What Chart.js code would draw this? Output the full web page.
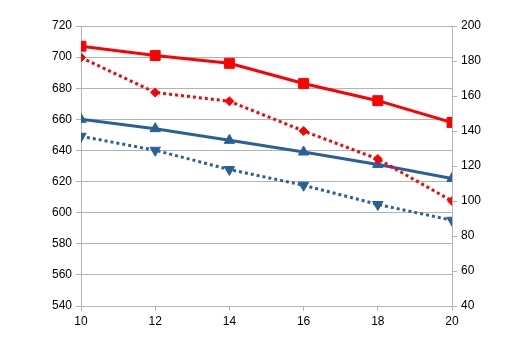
<!DOCTYPE html>
<html>
<head>
<meta charset="utf-8">
<script src="https://cdn.jsdelivr.net/npm/chart.js@4"></script>
<style>
  html, body { margin: 0; padding: 0; background: #fff; }
  #wrap { width: 528px; height: 364px; }
</style>
</head>
<body>
<div id="wrap"><canvas id="chart" width="528" height="364"></canvas></div>
<script>
// --- chart data ---
const xValues = [10, 12, 14, 16, 18, 20];
const redSolid = [707, 701, 696, 683, 672, 658];     // left axis
const blueSolid = [660, 654, 646.5, 639, 631, 622];  // left axis
const redDotted = [182, 162, 157, 140, 124, 100];    // right axis
const blueDotted = [137, 129, 118, 109, 98, 89];     // right axis
const leftTicks = { min: 540, max: 720, step: 20 };
const rightTicks = { min: 40, max: 200, step: 20 };
const xTicks = { min: 10, max: 20, step: 2 };
// --- end data ---

const RED = '#ff0000';
const BLUE = '#2a6099';
const GRID = '#b3b3b3';

const pts = arr => arr.map((v, i) => ({ x: xValues[i], y: v }));

function series(data, color, axis, style, radius, dashed, rot) {
    return {
        data: pts(data),
        yAxisID: axis,
        borderColor: color,
        backgroundColor: color,
        borderWidth: 3,
        borderDash: dashed ? [3, 3] : [],
        pointStyle: style,
        pointRadius: radius,
        pointRotation: rot || 0,
        pointBorderWidth: 1,
        pointBackgroundColor: color,
        pointBorderColor: color,
        tension: 0
    };
}

const font = { family: 'Liberation Sans', size: 12 };

new Chart(document.getElementById('chart'), {
    type: 'line',
    data: {
        datasets: [
            series(blueDotted, BLUE, 'yR', 'triangle', 6, true, 180),
            series(redDotted, RED, 'yR', 'rectRot', 4.5, true),
            series(blueSolid, BLUE, 'yL', 'triangle', 6, false),
            series(redSolid, RED, 'yL', 'rect', 7, false)
        ]
    },
    options: {
        responsive: false,
        animation: false,
        layout: { padding: { top: 26, left: 0, right: 0, bottom: 0 } },
        plugins: { legend: { display: false }, tooltip: { enabled: false } },
        scales: {
            x: {
                type: 'linear',
                min: xTicks.min, max: xTicks.max,
                ticks: { stepSize: xTicks.step, color: '#000', font: font, padding: 3 },
                grid: { drawOnChartArea: false, drawTicks: true, tickLength: 5, color: GRID },
                border: { color: GRID },
                afterFit: s => { s.height = 58; }
            },
            yL: {
                position: 'left',
                min: leftTicks.min, max: leftTicks.max,
                ticks: { stepSize: leftTicks.step, color: '#000', font: font, padding: 4 },
                grid: { color: GRID, tickLength: 5 },
                border: { color: GRID },
                afterFit: s => { s.width = 81; }
            },
            yR: {
                position: 'right',
                min: rightTicks.min, max: rightTicks.max,
                ticks: { stepSize: rightTicks.step, color: '#000', font: font, padding: 4 },
                grid: { drawOnChartArea: false, color: GRID, tickLength: 5 },
                border: { color: GRID },
                afterFit: s => { s.width = 76; }
            }
        }
    }
});
</script>
</body>
</html>
